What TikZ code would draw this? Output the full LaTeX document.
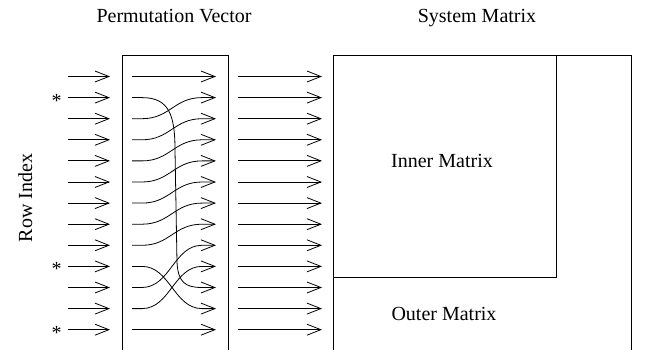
\documentclass[tikz,border=0pt]{standalone}
\usepackage{fontspec}
\setmainfont{Liberation Serif}
\usetikzlibrary{arrows.meta}
\tikzset{
  x=1pt,y=-1pt,
  ln/.style={line width=0.8pt,black},
  arr/.style={ln,-{Straight Barb[length=14pt,width=11pt,line width=0.8pt]}},
  lbl/.style={font=\fontsize{20}{24}\selectfont,inner sep=0pt},
}
\begin{document}
\begin{tikzpicture}
\useasboundingbox (0,0) rectangle (646,350);
% row coordinates
\foreach \k in {0,...,12}{
  \pgfmathsetmacro{\yy}{76.5+21.1*\k}
  \coordinate (L\k a) at (68,\yy);
  \coordinate (L\k b) at (110,\yy);
  \coordinate (P\k a) at (132,\yy);
  \coordinate (P\k s) at (142,\yy);
  \coordinate (P\k e) at (202,\yy);
  \coordinate (P\k b) at (216,\yy);
  \coordinate (R\k a) at (238,\yy);
  \coordinate (R\k b) at (322,\yy);
  \draw[arr] (L\k a) -- (L\k b);
  \draw[arr] (R\k a) -- (R\k b);
}
% stars
\foreach \k in {1,9,12}{
  \node[lbl,anchor=center] (star\k) at ([xshift=-11.5pt,yshift=-3pt]L\k a) {*};
}
% permutation box
\coordinate (pbl) at (122,350);
\coordinate (ptl) at (122,55);
\coordinate (ptr) at (228,55);
\coordinate (pbr) at (228,350);
\draw[ln] (pbl) -- (ptl) -- (ptr) -- (pbr);
% straight rows
\draw[arr] (P0a) -- (P0b);
\draw[arr] (P12a) -- (P12b);
% shifted rows
\foreach \s/\t in {2/1,3/2,4/3,5/4,6/5,7/6,8/7,9/11,10/8,11/9}{
  \draw[arr] (P\s a) -- (P\s s)
    .. controls ([xshift=28pt]P\s s) and ([xshift=-28pt]P\t e) .. (P\t e) -- (P\t b);
}
% long curve
\coordinate (v1) at (175,150);
\coordinate (v2) at (177,262);
\draw[arr] (P1a) -- (P1s) .. controls (169,97.6) and (175,115) .. (v1)
   -- (v2) .. controls (178,283) and (186,287.5) .. (P10e) -- (P10b);
% system matrix
\coordinate (obl) at (333,350);
\coordinate (otl) at (333,55);
\coordinate (otr) at (631,55);
\coordinate (obr) at (631,350);
\draw[ln] (obl) -- (otl) -- (otr) -- (obr);
\coordinate (ibr) at (556,277);
\draw[ln] (otl) rectangle (ibr);
% labels
\node[lbl,anchor=base] (pv) at (174,23) {Permutation Vector};
\node[lbl,anchor=base] (sm) at (477,23) {System Matrix};
\node[lbl,anchor=base] (im) at (442,168) {Inner Matrix};
\node[lbl,anchor=base] (om) at (444,320) {Outer Matrix};
\node[lbl,rotate=90,anchor=base] (ri) at (32,198) {Row Index};
\end{tikzpicture}
\end{document}
